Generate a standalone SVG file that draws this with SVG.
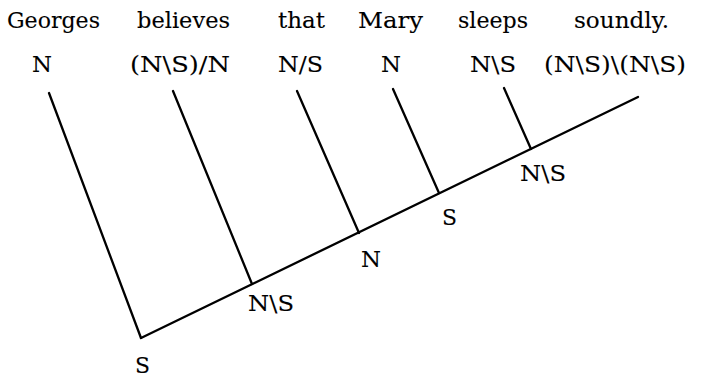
<svg xmlns="http://www.w3.org/2000/svg" width="702" height="379" viewBox="0 0 702 379">
<style>
text{font-family:"DejaVu Serif","Liberation Serif",serif;font-size:23px;fill:#000;stroke:#000;stroke-width:0.1}
.c line{stroke:#000;stroke-width:2.3;stroke-linecap:round}
</style>
<rect width="702" height="379" fill="#fff"/>
<g id="words">
<text x="7" y="28" textLength="93" lengthAdjust="spacingAndGlyphs">Georges</text>
<text x="137" y="28" textLength="93" lengthAdjust="spacingAndGlyphs">believes</text>
<text x="278" y="28" textLength="47" lengthAdjust="spacingAndGlyphs">that</text>
<text x="358" y="28" textLength="65" lengthAdjust="spacingAndGlyphs">Mary</text>
<text x="458" y="28" textLength="70" lengthAdjust="spacingAndGlyphs">sleeps</text>
<text x="574" y="28" textLength="95" lengthAdjust="spacingAndGlyphs">soundly.</text>
</g>
<g id="categories">
<text x="32" y="72" textLength="20" lengthAdjust="spacingAndGlyphs">N</text>
<text x="130" y="72" textLength="100" lengthAdjust="spacingAndGlyphs">(N\S)/N</text>
<text x="278" y="72" textLength="45" lengthAdjust="spacingAndGlyphs">N/S</text>
<text x="381" y="72" textLength="20" lengthAdjust="spacingAndGlyphs">N</text>
<text x="470" y="72" textLength="46" lengthAdjust="spacingAndGlyphs">N\S</text>
<text x="544" y="72" textLength="142" lengthAdjust="spacingAndGlyphs">(N\S)\(N\S)</text>
</g>
<g id="results">
<text x="135" y="373" textLength="15" lengthAdjust="spacingAndGlyphs">S</text>
<text x="248" y="311" textLength="46" lengthAdjust="spacingAndGlyphs">N\S</text>
<text x="361" y="267" textLength="20" lengthAdjust="spacingAndGlyphs">N</text>
<text x="442" y="225" textLength="15" lengthAdjust="spacingAndGlyphs">S</text>
<text x="520" y="181" textLength="46" lengthAdjust="spacingAndGlyphs">N\S</text>
</g>
<g id="connectors" class="c">
<line x1="141" y1="338" x2="638" y2="97"/>
<line x1="49" y1="93" x2="141" y2="338"/>
<line x1="173" y1="91" x2="252" y2="284"/>
<line x1="297" y1="91" x2="359" y2="233"/>
<line x1="393" y1="89" x2="439" y2="193"/>
<line x1="504" y1="88" x2="531" y2="149"/>
</g>
</svg>
